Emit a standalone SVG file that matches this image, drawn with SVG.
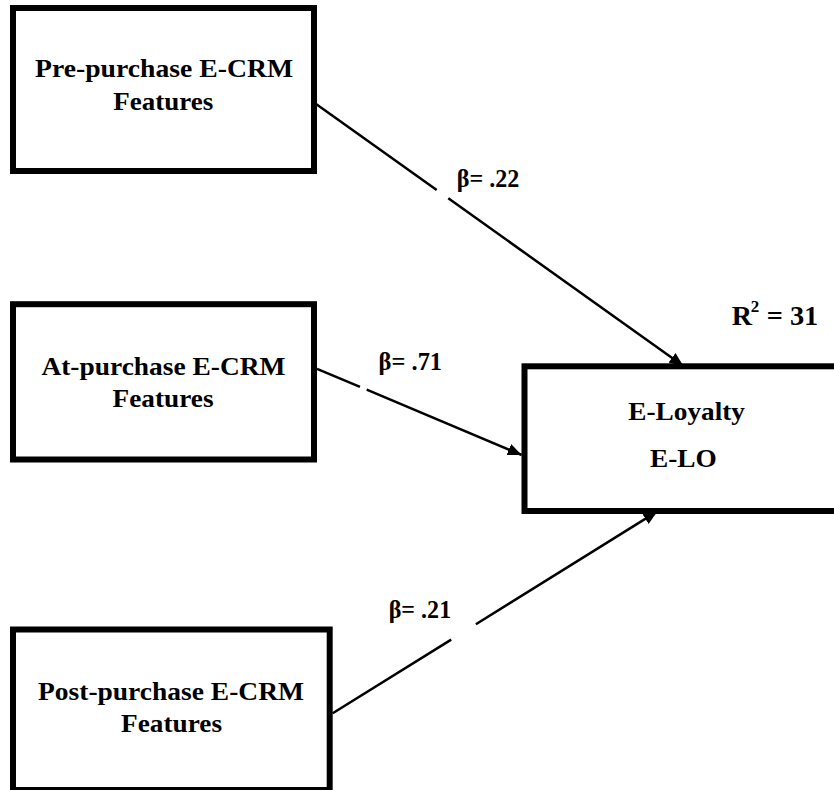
<svg xmlns="http://www.w3.org/2000/svg" width="834" height="790" viewBox="0 0 834 790">
  <style>
    .box { fill: #ffffff; stroke: #000000; stroke-width: 6; }
    .lbl { font-family: "Liberation Serif", "Times New Roman", serif; font-weight: bold; font-size: 25.5px; fill: #000000; }
    .mid { text-anchor: middle; }
    .edge { fill: none; stroke: #000000; stroke-width: 2.5; marker-end: url(#arrow); }
  </style>
  <defs>
    <marker id="arrow" markerUnits="userSpaceOnUse" markerWidth="14" markerHeight="12" refX="14" refY="6" orient="auto">
      <path d="M0,0 L14,6 L0,12 z" fill="#000000"/>
    </marker>
  </defs>
  <rect width="834" height="790" fill="#ffffff"/>

  <!-- paths into E-Loyalty (broken where the coefficients sit) -->
  <g id="connectors">
    <path class="edge" d="M315,103.3 L436.7,190.1 M448.3,198.3 L683.4,366"/>
    <path class="edge" d="M317,368.8 L360,386.9 M366.7,389.7 L521.7,455"/>
    <path class="edge" d="M332.7,713.3 L451.2,639.6 M475.9,624.2 L657.3,511.4"/>
  </g>

  <g id="pre-purchase">
    <rect class="box" x="13" y="8" width="301" height="163"/>
    <text class="lbl mid" x="164" y="77.3" textLength="258" lengthAdjust="spacingAndGlyphs">Pre-purchase E-CRM</text>
    <text class="lbl mid" x="163.3" y="110" textLength="100" lengthAdjust="spacingAndGlyphs">Features</text>
  </g>

  <g id="at-purchase">
    <rect class="box" x="13" y="304.2" width="301" height="155.3"/>
    <text class="lbl mid" x="163.4" y="374.9" textLength="244" lengthAdjust="spacingAndGlyphs">At-purchase E-CRM</text>
    <text class="lbl mid" x="163" y="407" textLength="101" lengthAdjust="spacingAndGlyphs">Features</text>
  </g>

  <g id="post-purchase">
    <rect class="box" x="13" y="629.5" width="316.7" height="160.5"/>
    <text class="lbl mid" x="171" y="699.5" textLength="266" lengthAdjust="spacingAndGlyphs">Post-purchase E-CRM</text>
    <text class="lbl mid" x="171.5" y="731.5" textLength="101" lengthAdjust="spacingAndGlyphs">Features</text>
  </g>

  <g id="e-loyalty">
    <rect class="box" x="524.5" y="366.3" width="400" height="144.7"/>
    <text class="lbl" x="628.3" y="420" textLength="116.7" lengthAdjust="spacingAndGlyphs">E-Loyalty</text>
    <text class="lbl" x="650" y="466.7" textLength="66.7" lengthAdjust="spacingAndGlyphs">E-LO</text>
  </g>

  <g id="coefficients">
    <text class="lbl" x="456.7" y="186.7" textLength="62.6" lengthAdjust="spacingAndGlyphs">β= .22</text>
    <text class="lbl" x="378.6" y="369.9" textLength="63.5" lengthAdjust="spacingAndGlyphs">β= .71</text>
    <text class="lbl" x="388.7" y="618.3" textLength="62.5" lengthAdjust="spacingAndGlyphs">β= .21</text>
  </g>

  <g id="r-squared">
    <text class="lbl" style="font-size:28px"><tspan x="731.7" y="325">R</tspan><tspan x="750.7" y="312" style="font-size:17px">2</tspan><tspan x="766.7" y="325" textLength="51.6" lengthAdjust="spacingAndGlyphs">= 31</tspan></text>
  </g>
</svg>
